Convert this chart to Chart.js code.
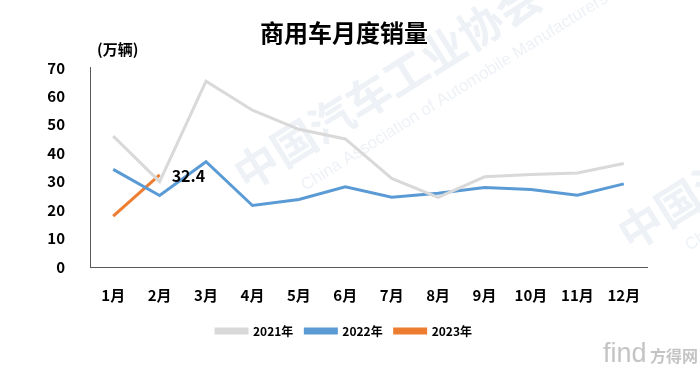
<!DOCTYPE html>
<html>
<head>
<meta charset="utf-8">
<script src="https://cdn.jsdelivr.net/npm/chart.js@4"></script>
<style>
html,body{margin:0;padding:0;background:#fff;}
#wrap{width:700px;height:370px;position:relative;}
</style>
</head>
<body>
<div id="wrap"><canvas id="c" width="700" height="370"></canvas></div>
<script>
const months = ['1月','2月','3月','4月','5月','6月','7月','8月','9月','10月','11月','12月'];
const sales2021 = [46.0, 30.0, 65.3, 55.1, 48.4, 45.0, 31.1, 24.5, 31.7, 32.5, 33.0, 36.4];
const sales2022 = [34.3, 25.1, 37.0, 21.6, 23.7, 28.2, 24.5, 25.9, 27.9, 27.2, 25.2, 29.2];
const sales2023 = [17.9, 32.4];
const seriesNames = ['2021年','2022年','2023年'];
const yTicks = [0,10,20,30,40,50,60,70];
const chartTitle = '商用车月度销量';
const unitLabel = '(万辆)';
const labelledPoint = {dataset: 2, index: 1};

const FONT = "'Noto Sans CJK SC', 'Liberation Sans', sans-serif";

function drawMark(ctx, x, y) {
  ctx.save();
  ctx.fillStyle = '#eef2f7';
  ctx.translate(x, y);
  ctx.rotate(-32 * Math.PI / 180);
  ctx.font = "bold 44px " + FONT;
  ctx.textBaseline = 'middle';
  ctx.fillText('中国汽车工业协会', 0, 0);
  ctx.font = "17px 'Liberation Sans', sans-serif";
  ctx.fillText('China Association of Automobile Manufacturers', 50, 42);
  ctx.restore();
}

const watermark = {
  id: 'watermark',
  beforeDraw(chart) {
    drawMark(chart.ctx, 238, 178);
    drawMark(chart.ctx, 622, 238);
  },
  afterDraw(chart) {
    const ctx = chart.ctx;
    ctx.save();
    ctx.fillStyle = '#c4c4c4';
    ctx.font = "27px 'Liberation Sans', sans-serif";
    ctx.textBaseline = 'middle';
    ctx.fillText('find', 603, 355);
    ctx.font = "bold 16px " + FONT;
    ctx.fillText('方得网', 650, 356);
    ctx.restore();
  }
};

const extras = {
  id: 'extras',
  afterDatasetsDraw(chart) {
    const ctx = chart.ctx;
    ctx.save();
    ctx.fillStyle = '#000';
    ctx.font = "bold 15px " + FONT;
    ctx.textAlign = 'left';
    ctx.textBaseline = 'middle';
    ctx.fillText(unitLabel, 97, 49);
    const meta = chart.getDatasetMeta(labelledPoint.dataset);
    const pt = meta.data[labelledPoint.index];
    const v = chart.data.datasets[labelledPoint.dataset].data[labelledPoint.index];
    ctx.font = "bold 16px " + FONT;
    ctx.fillText(v.toFixed(1), pt.x + 12, pt.y + 1);
    ctx.restore();
  }
};

new Chart(document.getElementById('c'), {
  type: 'line',
  data: {
    labels: months,
    datasets: [
      {label: seriesNames[0], data: sales2021, borderColor: '#d9d9d9', backgroundColor: '#d9d9d9', borderWidth: 3, pointRadius: 0, tension: 0},
      {label: seriesNames[1], data: sales2022, borderColor: '#5b9bd5', backgroundColor: '#5b9bd5', borderWidth: 3, pointRadius: 0, tension: 0},
      {label: seriesNames[2], data: sales2023, borderColor: '#ed7d31', backgroundColor: '#ed7d31', borderWidth: 3, pointRadius: 0, tension: 0}
    ]
  },
  options: {
    responsive: false,
    animation: false,
    events: [],
    layout: {padding: {left: 0, right: 12, top: 0, bottom: 23}},
    plugins: {
      title: {
        display: true,
        text: chartTitle,
        color: '#000',
        font: {family: FONT, size: 24, weight: 'bold'},
        padding: {top: 18, bottom: 21}
      },
      legend: {
        display: true,
        position: 'bottom',
        labels: {
          boxWidth: 31,
          boxHeight: 4,
          padding: 12,
          color: '#000',
          font: {family: FONT, size: 12, weight: 'bold'}
        }
      },
      tooltip: {enabled: false}
    },
    scales: {
      x: {
        offset: true,
        grid: {display: false},
        border: {display: true, color: '#595959', width: 1},
        ticks: {color: '#000', font: {family: FONT, size: 15, weight: 'bold'}, padding: 11, maxRotation: 0, autoSkip: false},
        afterFit(s) { s.height = 46; }
      },
      y: {
        min: 0, max: 70,
        afterBuildTicks(s) { s.ticks = yTicks.map(v => ({value: v})); },
        grid: {display: false},
        border: {display: true, color: '#595959', width: 1},
        ticks: {color: '#000', font: {family: FONT, size: 15, weight: 'bold'}, padding: 17},
        afterFit(s) { s.width = 90; }
      },
      y2: {
        position: 'right',
        display: true,
        grid: {display: false},
        border: {display: false},
        ticks: {display: false},
        afterFit(s) { s.width = 41; }
      }
    }
  },
  plugins: [watermark, extras]
});
</script>
</body>
</html>
